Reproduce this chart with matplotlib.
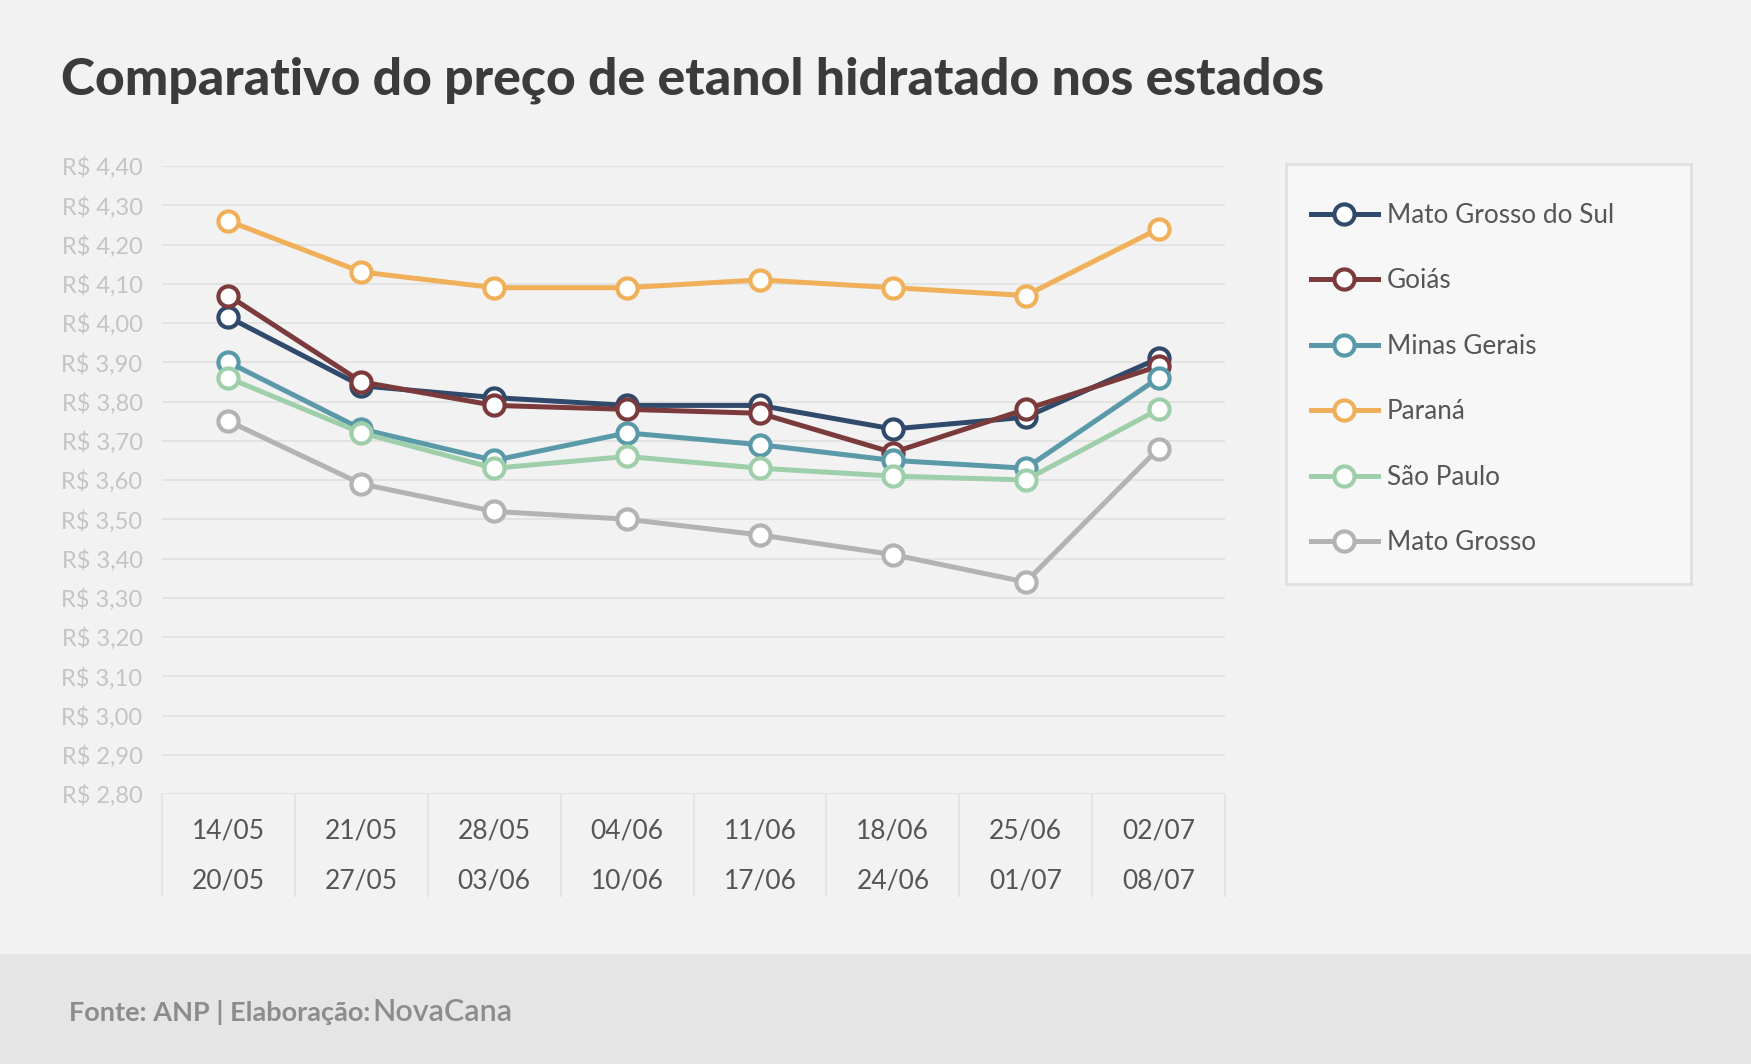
import numpy as np
import matplotlib
matplotlib.use("Agg")
import matplotlib.pyplot as plt
from matplotlib.patches import Rectangle

plt.rcParams['font.family'] = ['Lato', 'DejaVu Sans']

# semanas (inicio / fim)
week_start = ["14/05", "21/05", "28/05", "04/06", "11/06", "18/06", "25/06", "02/07"]
week_end = ["20/05", "27/05", "03/06", "10/06", "17/06", "24/06", "01/07", "08/07"]

states = ["Mato Grosso do Sul", "Goiás", "Minas Gerais", "Paraná", "São Paulo", "Mato Grosso"]
ms = [4.015, 3.84, 3.81, 3.79, 3.79, 3.73, 3.76, 3.91]
go = [4.07, 3.85, 3.79, 3.78, 3.77, 3.67, 3.78, 3.89]
mg = [3.90, 3.73, 3.65, 3.72, 3.69, 3.65, 3.63, 3.86]
pr = [4.26, 4.13, 4.09, 4.09, 4.11, 4.09, 4.07, 4.24]
sp = [3.86, 3.72, 3.63, 3.66, 3.63, 3.61, 3.60, 3.78]
mt = [3.75, 3.59, 3.52, 3.50, 3.46, 3.41, 3.34, 3.68]
series = [ms, go, mg, pr, sp, mt]
colors = ["#2f4a6b", "#7b3a3c", "#5a9aa8", "#f0b05a", "#9fcfaa", "#b3b3b3"]

yticks = np.round(np.arange(2.80, 4.401, 0.10), 2)

W, H = 1751, 1064
fig = plt.figure(figsize=(W / 100, H / 100), dpi=100)
fig.patch.set_facecolor("#f2f2f2")

# faixa do rodape
fig.patches.append(Rectangle((0, 0), 1, 110 / H, transform=fig.transFigure,
                             facecolor="#e5e5e5", edgecolor="none", zorder=0))
# caixa da legenda
fig.patches.append(Rectangle((1286 / W, 1 - 584 / H), 405 / W, 420 / H,
                             transform=fig.transFigure, facecolor="#f7f7f7",
                             edgecolor="#e0e0e0", lw=2, zorder=0))

ax = fig.add_axes([162 / W, 1 - 794 / H, (1225 - 162) / W, (794 - 166) / H])
ax.set_facecolor("#f2f2f2")

x = np.arange(len(week_start)) + 0.5
for vals, c, name in zip(series, colors, states):
    ax.plot(x, vals, color=c, lw=3.6, marker="o", ms=14.5, mfc="white",
            mec=c, mew=3.0, label=name, zorder=3)

ax.set_xlim(0, len(week_start))
ax.set_ylim(2.80, 4.40)
ax.set_yticks(yticks)
ax.set_yticklabels([f"R$ {v:.2f}".replace(".", ",") for v in yticks])
ax.set_xticks(x)
ax.set_xticklabels([f"{a}\n{b}" for a, b in zip(week_start, week_end)], linespacing=2.25)
ax.tick_params(axis="y", length=0, pad=14, labelsize=17, labelcolor="#c4c4c4")
ax.tick_params(axis="x", length=0, pad=18, labelsize=19, labelcolor="#555555")
ax.yaxis.grid(True, color="#e0e0e0", lw=1.2)
ax.set_axisbelow(True)
for s in ax.spines.values():
    s.set_visible(False)

# separadores das categorias
trans = ax.get_xaxis_transform()
ax.vlines(np.arange(len(week_start) + 1), -103 / 628, 0, transform=trans,
          colors="#e2e2e2", lw=1.2, clip_on=False)

fig.text(61 / W, 1 - 80 / H, "Comparativo do preço de etanol hidratado nos estados",
         fontsize=37.2, fontweight="black", color="#3b3b3b", va="center", ha="left")

leg = fig.legend(loc="upper left", bbox_to_anchor=(1311 / W, 1 - 203 / H),
                 fontsize=18.8, labelspacing=1.55, handlelength=2.55,
                 handletextpad=0.35, borderpad=0, borderaxespad=0, frameon=False,
                 labelcolor="#555555")

t1 = fig.text(69 / W, 1 - 1021 / H, "Fonte: ANP | Elaboração:", fontsize=19.5,
              fontweight="bold", color="#8c8c8c", va="baseline", ha="left")
fig.canvas.draw()
bb = t1.get_window_extent()
fig.text((bb.x1 + 2) / W, 1 - 1021 / H, "NovaCana", fontsize=22, fontweight="semibold",
         color="#8c8c8c", va="baseline", ha="left")

fig.savefig("out.png", dpi=100, facecolor=fig.get_facecolor())
